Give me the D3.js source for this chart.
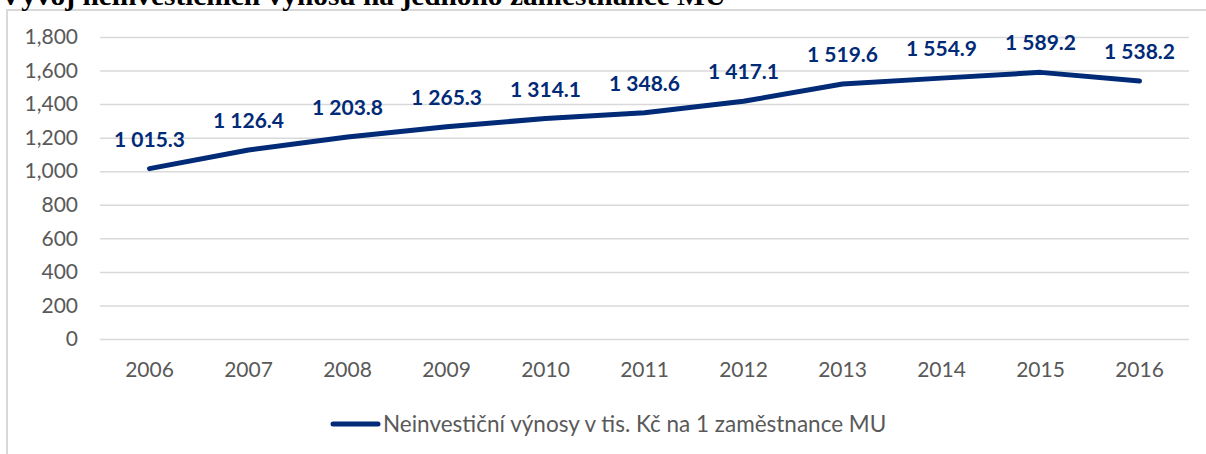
<!DOCTYPE html>
<html>
<head>
<meta charset="utf-8">
<style>
  body { margin: 0; background: #fff; }
  svg { display: block; }
  .y .domain, .x .domain { display: none; }
  .y .tick line { stroke: #d9d9d9; stroke-width: 1.5px; }
  .tick text { font-family: Lato, sans-serif; fill: #595959; font-size: 21px; }
  .lbl { font-family: Lato, sans-serif; font-weight: 700; fill: #012a77; font-size: 21px; }
  .legend { font-family: Lato, sans-serif; fill: #595959; font-size: 22.5px; }
  .title { font-family: "Liberation Serif", serif; font-weight: 700; font-size: 27px; fill: #000; }
</style>
</head>
<body>
<svg width="1206" height="454"></svg>
<script src="https://d3js.org/d3.v7.min.js"></script>
<script>
const years = ["2006","2007","2008","2009","2010","2011","2012","2013","2014","2015","2016"];
const values = [1015.3, 1126.4, 1203.8, 1265.3, 1314.1, 1348.6, 1417.1, 1519.6, 1554.9, 1589.2, 1538.2];
const yTicks = [0, 200, 400, 600, 800, 1000, 1200, 1400, 1600, 1800];
const seriesName = "Neinvestiční výnosy v tis. Kč na 1 zaměstnance MU";
const title = "Vývoj neinvestičních výnosů na jednoho zaměstnance MU";

const svg = d3.select("svg");
const width = 1206, height = 454;
const margin = { top: 37, right: 17, bottom: 115, left: 100 };

// chart frame
svg.append("rect")
  .attr("x", 7).attr("y", 10)
  .attr("width", 1240).attr("height", 500)
  .attr("fill", "none").attr("stroke", "#d9d9d9").attr("stroke-width", 2);

svg.append("text").attr("class", "title")
  .attr("x", 0).attr("y", 5)
  .attr("textLength", 726).attr("lengthAdjust", "spacingAndGlyphs")
  .text(title);

const x = d3.scaleBand().domain(years).range([margin.left, width - margin.right]);
const y = d3.scaleLinear().domain([0, 1800]).range([height - margin.bottom, margin.top]);

svg.append("g").attr("class", "y axis")
  .attr("transform", `translate(${margin.left},0)`)
  .call(d3.axisLeft(y).tickValues(yTicks).tickSize(-(width - margin.left - margin.right))
    .tickPadding(22).tickFormat(d3.format(",")));

svg.append("g").attr("class", "x axis")
  .attr("transform", `translate(0,${height - margin.bottom})`)
  .call(d3.axisBottom(x).tickSize(0).tickPadding(23));

const line = d3.line().x((d, i) => x(years[i]) + x.bandwidth() / 2).y(d => y(d));
svg.append("path").datum(values)
  .attr("d", line)
  .attr("fill", "none").attr("stroke", "#012a77")
  .attr("stroke-width", 5).attr("stroke-linecap", "round").attr("stroke-linejoin", "round");

const fmt = v => d3.format(",.1f")(v).replace(",", " ");
svg.selectAll(".lbl").data(values).join("text")
  .attr("class", "lbl")
  .attr("text-anchor", "middle")
  .attr("x", (d, i) => x(years[i]) + x.bandwidth() / 2)
  .attr("y", d => y(d) - 22)
  .text(d => fmt(d));

// legend
const lg = svg.append("g").attr("transform", "translate(333,424)");
lg.append("line").attr("x1", 0).attr("x2", 45).attr("y1", 0).attr("y2", 0)
  .attr("stroke", "#012a77").attr("stroke-width", 5).attr("stroke-linecap", "round");
lg.append("text").attr("class", "legend").attr("x", 50).attr("y", 8).text(seriesName);
</script>
</body>
</html>
